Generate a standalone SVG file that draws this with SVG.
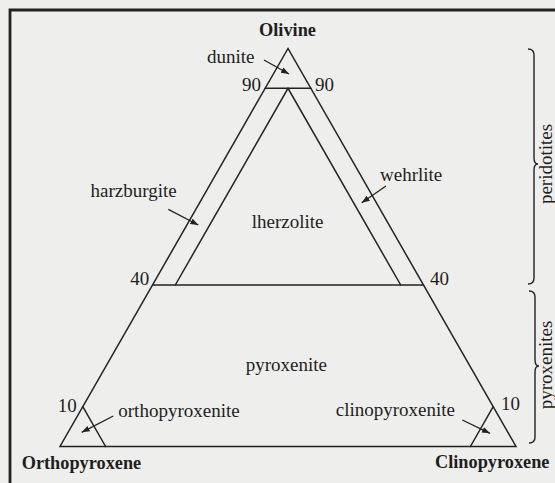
<svg xmlns="http://www.w3.org/2000/svg" width="555" height="483" viewBox="0 0 555 483">
<style>
.ln{fill:none;stroke:#222;stroke-width:1.5;stroke-linecap:round}
.fr{fill:none;stroke:#222;stroke-width:2.8}
.ar{fill:none;stroke:#222;stroke-width:1.3}
.br{fill:none;stroke:#222;stroke-width:1.4}
text{font-family:"Liberation Serif","Times New Roman",serif;fill:#1e1e1e;font-size:19px}
.b{font-weight:bold;font-size:18.3px}
</style>
<defs>
<marker id="ah" markerUnits="userSpaceOnUse" markerWidth="9" markerHeight="7" refX="8" refY="3" orient="auto">
<path d="M0,0 L8,3 L0,6 z" fill="#222"/>
</marker>
</defs>
<rect width="555" height="483" fill="#eeeeec"/>
<g id="frame">
<path class="fr" d="M10,483 L10,10 L555,10"/>
</g>
<g id="diagram">
<polygon class="ln" points="288,48.5 60,446.5 516,446.5" stroke-linejoin="miter"/>
<line class="ln" x1="265.2" y1="88.3" x2="310.8" y2="88.3"/>
<polyline class="ln" points="175.3,285 288,88.3 400.7,285"/>
<line class="ln" x1="152.5" y1="285" x2="423.5" y2="285"/>
<line class="ln" x1="82.8" y1="406.7" x2="105.6" y2="446.5"/>
<line class="ln" x1="493.2" y1="406.7" x2="470.4" y2="446.5"/>
</g>
<g id="connectors">
<line class="ar" x1="264" y1="60" x2="289" y2="74" marker-end="url(#ah)"/>
<line class="ar" x1="168.3" y1="209.3" x2="198.3" y2="225" marker-end="url(#ah)"/>
<line class="ar" x1="386" y1="186" x2="361.7" y2="202.7" marker-end="url(#ah)"/>
<line class="ar" x1="113.3" y1="416" x2="81.7" y2="432.3" marker-end="url(#ah)"/>
<line class="ar" x1="462.3" y1="420" x2="490" y2="433.3" marker-end="url(#ah)"/>
</g>
<g id="olivine"><text class="b" x="287.5" y="35.7" text-anchor="middle">Olivine</text></g>
<g id="orthopyroxene"><text class="b" x="21.7" y="468.5">Orthopyroxene</text></g>
<g id="clinopyroxene"><text class="b" x="435" y="468">Clinopyroxene</text></g>
<g id="dunite"><text x="254.5" y="63.3" text-anchor="end">dunite</text></g>
<g id="harzburgite"><text x="176.7" y="196.7" text-anchor="end">harzburgite</text></g>
<g id="lherzolite"><text x="251.7" y="228.3">lherzolite</text></g>
<g id="wehrlite"><text x="380" y="180.7">wehrlite</text></g>
<g id="pyroxenite"><text x="245.7" y="370.7">pyroxenite</text></g>
<g id="orthopyroxenite"><text x="118.3" y="416.7">orthopyroxenite</text></g>
<g id="clinopyroxenite"><text x="455" y="416.3" text-anchor="end">clinopyroxenite</text></g>
<g id="ticks">
<text x="261" y="90.7" text-anchor="end">90</text>
<text x="315" y="90.7">90</text>
<text x="149.3" y="285" text-anchor="end">40</text>
<text x="430" y="285">40</text>
<text x="76.7" y="411.7" text-anchor="end">10</text>
<text x="501" y="410.3">10</text>
</g>
<g id="peridotites">
<path class="br" d="M528,49 Q534,49 534,55 L534,158 Q534,164 538,164 Q534,164 534,170 L534,278 Q534,284 528,284"/>
<text x="0" y="0" text-anchor="middle" transform="translate(551.5,164) rotate(-90)">peridotites</text>
</g>
<g id="pyroxenites">
<path class="br" d="M529,291 Q535,291 535,297 L535,360 Q535,366 539,366 Q535,366 535,372 L535,437 Q535,443 529,443"/>
<text x="0" y="0" text-anchor="middle" transform="translate(551.5,365) rotate(-90)">pyroxenites</text>
</g>
</svg>
